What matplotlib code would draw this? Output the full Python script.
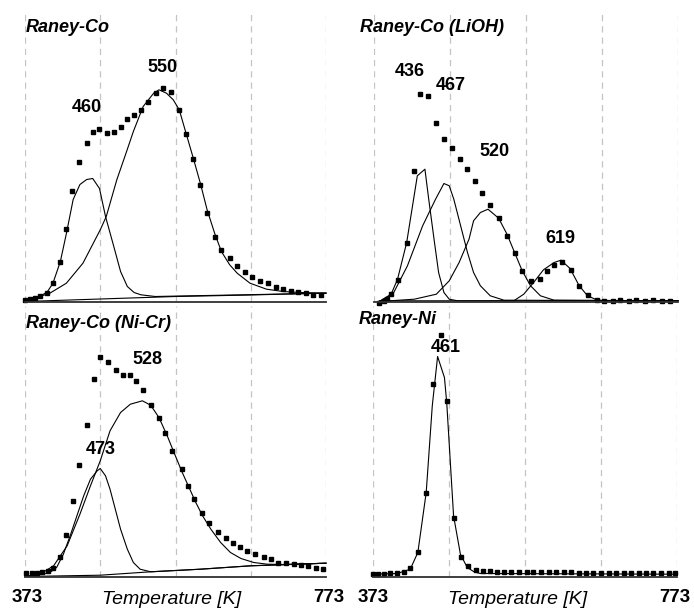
import matplotlib
matplotlib.use("Agg")
import matplotlib.pyplot as plt

plt.rcParams['font.family'] = ['Liberation Sans', 'DejaVu Sans']

W, H = 694, 612
T_MIN, T_MAX = 373, 773
grid_temps = [373, 473, 573, 673, 773]

# ---- Raney-Co (top left) ----
co_T = [373, 380, 386, 393, 402, 410, 420, 428, 436, 445, 455, 463, 472, 482, 491,
        500, 509, 518, 527, 537, 547, 557, 567, 578, 587, 596, 606, 615, 625, 634,
        645, 655, 665, 675, 685, 696, 706, 716, 727, 736, 746, 756, 766]
co_I = [1.7, 2.3, 3.3, 5.7, 9, 18.3, 40, 73, 111, 139.7, 159, 169.3, 172.3, 169, 169.7,
        175, 182.3, 186.7, 191.7, 200, 208.3, 213.7, 210, 191.7, 167.3, 142.7, 116.7, 88.3, 65, 51.7,
        43.3, 36, 30, 25, 20.7, 18.3, 15, 13, 10.7, 9.3, 8.3, 6.7, 6.7]
co_p1_T = [373, 393, 402, 410, 420, 428, 437, 446, 455, 463, 472, 480, 491, 500, 509, 518, 527, 546, 773]
co_p1_I = [0, 5.7, 9, 18, 40, 68, 102, 117, 122, 123, 113, 85, 55, 30, 15, 9, 6.7, 5, 8.3]
co_p2_T = [373, 406, 428, 450, 473, 481, 495, 508, 517, 530, 544, 551, 561, 570, 578, 587,
           596, 606, 615, 625, 634, 645, 655, 672, 694, 716, 738, 773]
co_p2_I = [0, 8.3, 18.3, 38.3, 71.7, 85, 121.7, 150, 170, 195, 208.3, 211.7, 208.3, 201.7, 191.7, 168.3,
           145, 118.3, 91.7, 68.3, 50, 36.7, 28.3, 18.3, 12.3, 10, 9, 8.3]
co_bg_T = [373, 473, 573, 673, 773]
co_bg_I = [0, 2.5, 5, 6.5, 8.5]
co_peaks = [(460, 87, 108), (550, 163, 67)]

# ---- Raney-Co (LiOH) (top right) ----
li_T = [380, 386, 390, 396, 405, 416, 426, 433, 444, 454, 465, 475, 486, 496, 506, 515,
        525, 537, 548, 558, 568, 580, 591, 601, 610, 620, 632, 643, 654, 666, 675, 687,
        697, 708, 718, 729, 740, 752, 763]
li_I = [-1.5, 0.7, 2.3, 7.3, 21.7, 59, 130.7, 208, 205.7, 179, 162.3, 154, 143, 133, 120.7, 108.3,
        96.3, 83.3, 65.7, 48.3, 30.7, 20.7, 23, 30.7, 36.7, 40, 31.7, 15.7, 6.3, 1.3, 0.7, 0.7,
        1.3, 0.7, 1.3, 0.7, 1.3, 0.7, 0.7]
li_p1_T = [380, 395, 404, 416, 430, 440, 445, 452, 458, 465, 472, 483, 773]
li_p1_I = [0, 6.3, 22.3, 59, 125.7, 132.3, 102.3, 62.3, 29, 9, 2.3, 0.7, 0.7]
li_p2_T = [380, 399, 417, 437, 454, 465, 472, 478, 487, 496, 504, 513, 526, 544, 773]
li_p2_I = [0, 9, 35.7, 75.7, 102.3, 118, 115.7, 102.3, 75.7, 49, 29, 15.7, 5.7, 1.3, 0.7]
li_p3_T = [380, 426, 455, 472, 485, 498, 504, 513, 523, 537, 548, 558, 568, 579, 592, 610, 773]
li_p3_I = [0, 2.3, 7.3, 20.7, 39, 62.3, 80.7, 89, 92.3, 83.3, 67.3, 49, 30.7, 15.7, 5.7, 1.3, 0.7]
li_p4_T = [380, 557, 570, 583, 596, 610, 619, 631, 643, 654, 667, 680, 773]
li_p4_I = [0.7, 0.7, 7.3, 19, 31.7, 39, 41.3, 33, 15.7, 5.7, 1.3, 0.7, 0.7]
li_peaks = [(436, 410, 72), (467, 451, 86), (520, 494, 151), (619, 560, 239)]

# ---- Raney-Co (Ni-Cr) (bottom left) ----
nc_T = [374, 382, 389, 395, 403, 410, 420, 427, 437, 445, 455, 465, 473, 483, 494,
        503, 512, 521, 530, 540, 551, 559, 569, 581, 590, 598, 608, 618, 629, 640,
        649, 659, 668, 678, 690, 700, 709, 720, 730, 740, 749, 760, 769]
nc_I = [3.3, 3.3, 4, 4.7, 5.3, 9, 20, 42, 75.7, 111.3, 151.3, 198, 220, 214.7, 206.7,
        201.3, 201.3, 195.7, 186.7, 171.3, 159, 144, 125.7, 107.3, 90.7, 77.3, 64, 54, 44.7, 39,
        34, 30, 25.7, 22.3, 20, 17.3, 14, 13.3, 12.3, 11.3, 10.7, 9, 8]
nc_p1_T = [373, 397, 406, 415, 424, 433, 442, 451, 460, 469, 473, 480, 486, 493, 500,
           509, 517, 526, 540, 606, 673, 773]
nc_p1_I = [0, 2.3, 4, 9, 22.3, 40.7, 60.7, 80.7, 97.3, 105.7, 108, 100.7, 87.3, 67.3, 47.3,
           27.3, 14, 7.3, 4.7, 7.3, 10.7, 13.3]
nc_p2_T = [373, 393, 411, 429, 446, 460, 473, 486, 500, 513, 529, 540, 551, 562, 571, 582,
           591, 600, 609, 620, 633, 646, 660, 677, 695, 717, 773]
nc_p2_I = [0, 2.3, 10.7, 30.7, 62.3, 90.7, 115.7, 145.7, 164, 172.3, 175.7, 171.3, 159, 140.7, 124, 104,
           89, 74, 60.7, 47.3, 34, 24, 18, 14, 12.3, 12, 13.3]
nc_bg_T = [373, 473, 540, 606, 673, 773]
nc_bg_I = [0, 1.3, 4.7, 7.3, 10.7, 13.3]
nc_peaks = [(473, 101, 449), (528, 147, 360)]

# ---- Raney-Ni (bottom right) ----
ni_T = [373, 380, 387, 396, 405, 414, 422, 432, 443, 452, 462, 470, 479, 489, 498, 508,
        518, 527, 536, 546, 555, 565, 575, 584, 594, 604, 614, 624, 634, 644, 653, 663,
        673, 683, 693, 703, 713, 723, 732, 742, 752, 762, 770]
ni_I = [3, 3, 3, 4, 4, 4.7, 8.3, 24.7, 83.3, 192.3, 241.7, 175.7, 59, 20, 10.7, 6.7,
        5.7, 5.3, 4.7, 4.7, 4.7, 4.7, 4.7, 4.7, 4.3, 4.3, 4.3, 4.3, 4.3, 4, 4, 4,
        3.7, 3.7, 3.7, 3.7, 3.7, 3.3, 3.3, 3.3, 3.3, 3.3, 3.3]
ni_fit_T = [373, 405, 422, 432, 443, 451, 458, 467, 470, 479, 488, 497, 506, 514, 773]
ni_fit_I = [2.3, 3, 7.3, 24, 84, 170.7, 220, 199, 174, 60.7, 22.3, 9, 4.7, 3, 2.3]
ni_peaks = [(461, 446, 348)]


def px_axes(left, top, right, bottom):
    return fig.add_axes([left / W, 1 - bottom / H, (right - left) / W, (bottom - top) / H])


def setup(ax, height):
    ax.set_xlim(T_MIN, T_MAX)
    ax.set_ylim(0, height)
    ax.set_xticks(grid_temps)
    ax.set_yticks([])
    ax.tick_params(axis='x', length=0, labelbottom=False)
    ax.grid(axis='x', color='#c4c4c4', lw=0.9, ls=(0, (5, 4)))
    for s in ['top', 'left', 'right']:
        ax.spines[s].set_visible(False)
    ax.spines['bottom'].set_color('#303030')
    ax.spines['bottom'].set_linewidth(1.3)
    ax.patch.set_alpha(0)


def draw(ax, T, I, curves):
    for cT, cI in curves:
        ax.plot(cT, cI, color='black', lw=0.8, clip_on=False)
    ax.plot(T, I, ls='none', marker='s', ms=3.4, color='black', clip_on=False)


def label(x, y, s, **kw):
    fig.text(x / W, 1 - y / H, s, va='center', **kw)


fig = plt.figure(figsize=(W / 100, H / 100), dpi=100)

ax1 = px_axes(25, 13, 326, 301.5)
setup(ax1, 288.5)
draw(ax1, co_T, co_I, [(co_p1_T, co_p1_I), (co_p2_T, co_p2_I), (co_bg_T, co_bg_I)])

ax2 = px_axes(374, 13, 678, 301.5)
setup(ax2, 288.5)
draw(ax2, li_T, li_I, [(li_p1_T, li_p1_I), (li_p2_T, li_p2_I), (li_p3_T, li_p3_I), (li_p4_T, li_p4_I)])

ax3 = px_axes(25, 306, 326, 576.5)
setup(ax3, 270.5)
draw(ax3, nc_T, nc_I, [(nc_p1_T, nc_p1_I), (nc_p2_T, nc_p2_I), (nc_bg_T, nc_bg_I)])

ax4 = px_axes(373, 306, 677, 576.5)
setup(ax4, 270.5)
draw(ax4, ni_T, ni_I, [(ni_fit_T, ni_fit_I)])

# panel titles
title_kw = dict(ha='left', fontsize=13, fontweight='bold', fontstyle='italic')
label(26, 28, 'Raney-Co', **title_kw)
label(360, 28, 'Raney-Co (LiOH)', **title_kw)
label(26, 324, 'Raney-Co (Ni-Cr)', **title_kw)
label(359, 319, 'Raney-Ni', **title_kw)

# peak positions
for peaks in [co_peaks, li_peaks, nc_peaks, ni_peaks]:
    for val, x, y in peaks:
        label(x, y, str(val), ha='center', fontsize=13, fontweight='bold')

# x-axis annotations
for x0 in [27, 373]:
    label(x0, 598, '373', ha='center', fontsize=13.5, fontweight='bold')
    label(x0 + 302, 598, '773', ha='center', fontsize=13.5, fontweight='bold')
    label(x0 + 145, 599, 'Temperature [K]', ha='center', fontsize=14, fontstyle='italic')

fig.savefig('out.png', dpi=100)
